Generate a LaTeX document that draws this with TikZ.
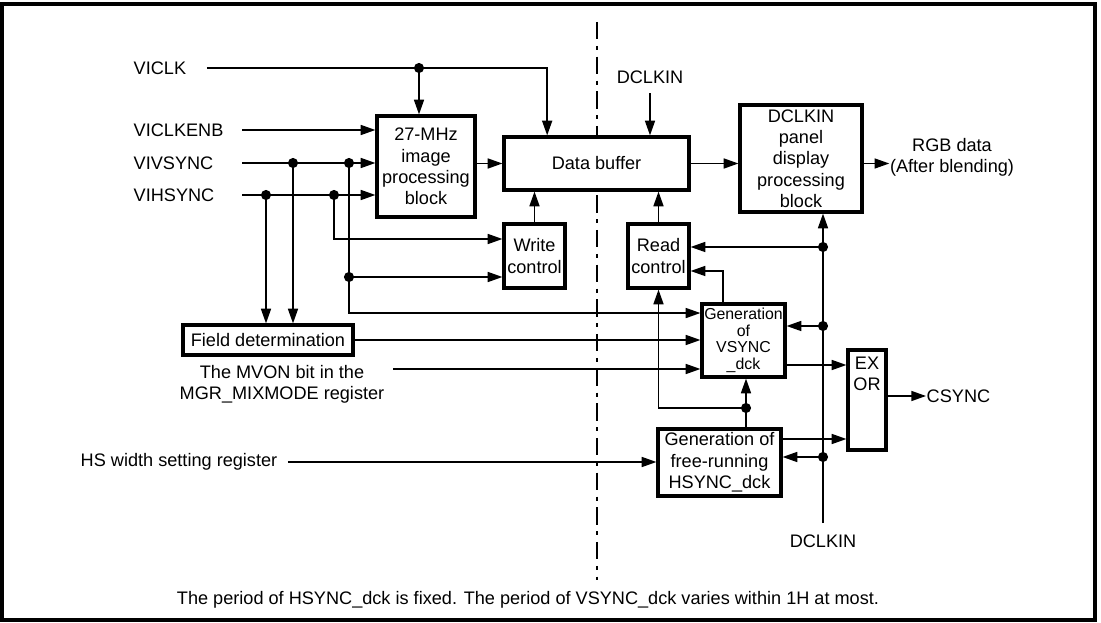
\documentclass[tikz,border=0pt]{standalone}
\usepackage{fontspec}
\setmainfont{Liberation Sans}
\usetikzlibrary{arrows.meta,positioning}

\tikzset{
  blk/.style={draw, fill=white, line width=2.4pt, inner sep=0pt, align=center},
  sz/.style 2 args={minimum width=#1*0.75pt, minimum height=#2*0.75pt},
  lbl/.style={inner sep=0pt, align=center},
  arr/.style={-{Triangle[length=11pt,width=7.5pt]}},
}

\begin{document}
\begin{tikzpicture}[x=0.75pt, y=-0.75pt, line width=1.1pt,
    font=\fontsize{13.6}{16}\selectfont]
  \useasboundingbox (0,0) rectangle (1101,623);
  \draw[line width=2.6pt] (2,4) rectangle (1095,620);
  % separator
  \draw[line width=2.2pt, dash pattern=on 13pt off 5pt on 3pt off 5pt] (597,22) -- (597,580);

  % blocks
  \node[blk, sz={98}{101}] (imgp) at (426,166.5) {27-MHz\\image\\processing\\block};
  \node[blk, sz={185}{53}] (buf) at (596.5,163.5) {Data buffer};
  \node[blk, sz={61}{64}] (wctl) at (534.5,256) {Write\\control};
  \node[blk, sz={61}{64}] (rctl) at (658.5,256) {Read\\control};
  \node[blk, sz={122}{107}] (panel) at (801,158.5) {DCLKIN\\panel\\display\\processing\\block};
  \node[blk, sz={83}{73}, font=\fontsize{11.9}{12.4}\selectfont] (vgen) at (743.5,340.5) {Generation\\of\\VSYNC\\\_dck};
  \node[blk, sz={123}{67}] (hgen) at (719.5,462.5) {Generation of\\free-running\\HSYNC\_dck};
  \node[blk, sz={38}{100}] (exor) at (867,400) {};
  \node[lbl, anchor=north] (exort) at ([yshift=-6pt]exor.north) {EX\\OR};
  \node[blk, sz={170}{30}] (field) at (268,340) {Field determination};

  % labels
  \node[lbl, anchor=west] (vclk) at (133,68) {VICLK};
  \node[lbl, anchor=west] (vkenb) at (133,130) {VICLKENB};
  \node[lbl, anchor=west] (vvs) at (133,163) {VIVSYNC};
  \node[lbl, anchor=west] (vhs) at (133,195) {VIHSYNC};
  \node[lbl] (mvon) at (282,384) {The MVON bit in the\\MGR\_MIXMODE register};
  \node[lbl, anchor=west] (hsw) at (80,462) {HS width setting register};
  \node[lbl] (dclkt) at (650,77) {DCLKIN};
  \node[lbl] (dclkb) at (823,541) {DCLKIN};
  \node[lbl] (rgb) at (952,157) {RGB data\\(After blending)};
  \node[lbl, anchor=west] (csync) at (926,396) {CSYNC};
  \node[lbl] (note) at (528,600) {The period of HSYNC\_dck is fixed. The period of VSYNC\_dck varies within 1H at most.};

  % junctions
  \coordinate (inx) at (242,0);
  \coordinate (jclk) at (419,68);
  \coordinate (jv1) at (293,163);
  \coordinate (jv2) at (349,163);
  \coordinate (jh1) at (266,195);
  \coordinate (jh2) at (334,195);
  \coordinate (jv3) at (349,277);
  \coordinate (jd1) at (823,247);
  \coordinate (jd2) at (823,326);
  \coordinate (jd3) at (823,457);
  \coordinate (jhg) at (746,408);
  \coordinate (mvs) at (393,369);
  \coordinate (vo) at (785,365);
  \coordinate (ho) at (781,439);

  % write side
  \draw[arr] ([xshift=15pt]vclk.east) -| ([xshift=-37pt]buf.north);
  \draw[arr] (jclk) -- (jclk |- imgp.north);
  \draw[arr] (vkenb -| inx) -- (vkenb -| imgp.west);
  \draw[arr] (vvs -| inx) -- (vvs -| imgp.west);
  \draw[arr] (vhs -| inx) -- (vhs -| imgp.west);
  \draw[arr] (jh1) -- (jh1 |- field.north);
  \draw[arr] (jv1) -- (jv1 |- field.north);
  \draw[arr] (jh2) |- ([yshift=12.75pt]wctl.west);
  \draw[arr] (jv3) -- (jv3 -| wctl.west);
  \draw (jv2) -- (jv3);
  \draw[arr] (jv3) |- ([yshift=20.6pt]vgen.west);
  \draw[arr] (field.east) -- (field.east -| vgen.west);
  \draw[arr] (mvs) -- (mvs -| vgen.west);
  \draw[arr] ([xshift=7.5pt]hsw.east) -- (hsw -| hgen.west);
  \draw[arr] (imgp.east |- buf.west) -- (buf.west);
  \draw[arr] (wctl.north) -- (wctl.north |- buf.south);

  % read side
  \draw[arr] (rctl.north) -- (rctl.north |- buf.south);
  \draw[arr] ([yshift=-7pt]dclkt.south) -- (dclkt |- buf.north);
  \draw[arr] (buf.east) -- (buf.east -| panel.west);
  \draw[arr] (panel.east |- buf.east) -- (rgb.west |- buf.east);
  \draw[arr] ([yshift=8pt]dclkb.north) -- (dclkb.north |- panel.south);
  \draw[arr] (jd1) -- (jd1 -| rctl.east);
  \draw[arr] (jd2) -- (jd2 -| vgen.east);
  \draw[arr] (jd3) -- (jd3 -| hgen.east);
  \draw[arr] ([xshift=-15.4pt]vgen.north) |- ([yshift=-11.25pt]rctl.east);
  \draw[arr] (vo) -- (vo -| exor.west);
  \draw[arr] (ho) -- (ho -| exor.west);
  \draw[arr] (jhg |- hgen.north) -- (jhg |- vgen.south);
  \draw[arr] (jhg) -| (rctl.south);
  \draw[arr] (exor.east |- csync) -- (csync.west);

  \foreach \j in {jclk,jv1,jv2,jh1,jh2,jv3,jd1,jd2,jd3,jhg}
    \fill (\j) circle (3.8pt);
\end{tikzpicture}
\end{document}
